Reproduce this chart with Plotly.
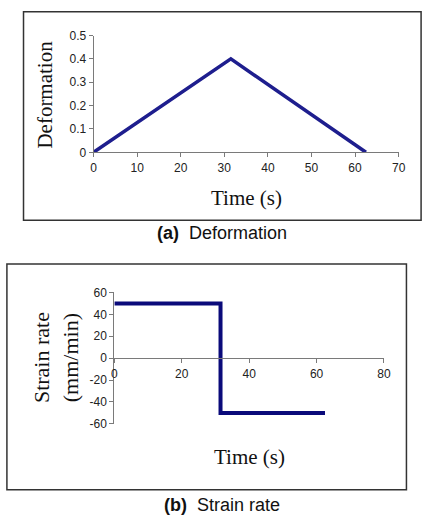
import plotly.graph_objects as go

# Data
time_a = [0, 31.5, 62.5]
deformation = [0, 0.4, 0]

time_b = [0, 31.5, 31.5, 62.5]
strain_rate = [50, 50, -50, -50]

rate_ticks = [-60, -40, -20, 0, 20, 40, 60]
rate_tick_labels = ["-60", "-40", "-20", "0", "20", "40", "60"]

W, H = 432, 524
def px(x): return x / W
def py(y): return 1 - y / H

fig = go.Figure()
fig.add_trace(go.Scatter(x=time_a, y=deformation, mode="lines",
                         line=dict(color="#1e1e8e", width=3.5),
                         xaxis="x", yaxis="y", showlegend=False))
fig.add_trace(go.Scatter(x=time_b, y=strain_rate, mode="lines",
                         line=dict(color="#0a0a7a", width=4),
                         xaxis="x2", yaxis="y2", showlegend=False))

tickfont = dict(family="Liberation Sans, Arial", size=12, color="#222")
axcol = "#7a7a7a"

top_y0, top_y1 = 149.3, 29.3
bot_y0, bot_y1 = 428.3, 293.3
zero_b = (bot_y0 + bot_y1) / 2

fig.update_layout(
    width=W, height=H, margin=dict(l=0, r=0, t=0, b=0),
    paper_bgcolor="white", plot_bgcolor="white",
    xaxis=dict(domain=[px(92.7), px(405)], range=[0, 70], dtick=10,
               showgrid=False, zeroline=False, showline=True, linecolor=axcol,
               ticks="outside", ticklen=4, tickcolor=axcol, tickfont=tickfont,
               anchor="y"),
    yaxis=dict(domain=[py(top_y0), py(top_y1)], range=[0, 0.5], dtick=0.1,
               showgrid=False, zeroline=False, showline=True, linecolor=axcol,
               ticks="outside", ticklen=4, tickcolor=axcol, tickfont=tickfont,
               anchor="x"),
    xaxis2=dict(domain=[px(114), px(390)], range=[0, 80], dtick=20,
                showgrid=False, zeroline=False, showline=True, linecolor=axcol,
                ticks="outside", ticklen=4, tickcolor=axcol, tickfont=tickfont,
                anchor="free", position=py(zero_b)),
    yaxis2=dict(domain=[py(bot_y0), py(bot_y1)], range=[-60, 60],
                tickmode="array", tickvals=rate_ticks, ticktext=rate_tick_labels,
                showgrid=False, zeroline=False, showline=True, linecolor=axcol,
                ticks="outside", ticklen=4, tickcolor=axcol, tickfont=tickfont,
                anchor="x2"),
)

serif = "Liberation Serif, Times New Roman, serif"
sans = "Liberation Sans, Arial, sans-serif"
ann = [
    dict(x=px(249), y=py(196), text="Time (s)", font=dict(family=serif, size=21, color="#111")),
    dict(x=px(43), y=py(90), text="Deformation", textangle=-90, font=dict(family=serif, size=21, color="#111")),
    dict(x=px(224), y=py(232), text="<b>(a)</b>  Deformation", font=dict(family=sans, size=18, color="#111")),
    dict(x=px(252), y=py(462), text="Time (s)", font=dict(family=serif, size=21, color="#111")),
    dict(x=px(55), y=py(360), text="Strain rate<br>(mm/min)", textangle=-90, font=dict(family=serif, size=22, color="#111")),
    dict(x=px(224), y=py(512), text="<b>(b)</b>  Strain rate", font=dict(family=sans, size=18, color="#111")),
]
for a in ann:
    a.update(xref="paper", yref="paper", showarrow=False, xanchor="center", yanchor="middle")
fig.update_layout(annotations=ann)

fig.update_layout(shapes=[
    dict(type="rect", xref="paper", yref="paper", x0=px(21), x1=px(428), y0=py(219), y1=py(5),
         line=dict(color="#333", width=1.5)),
    dict(type="rect", xref="paper", yref="paper", x0=px(4), x1=px(413), y0=py(496), y1=py(264),
         line=dict(color="#333", width=1.5)),
])

fig.write_html("out.html")
